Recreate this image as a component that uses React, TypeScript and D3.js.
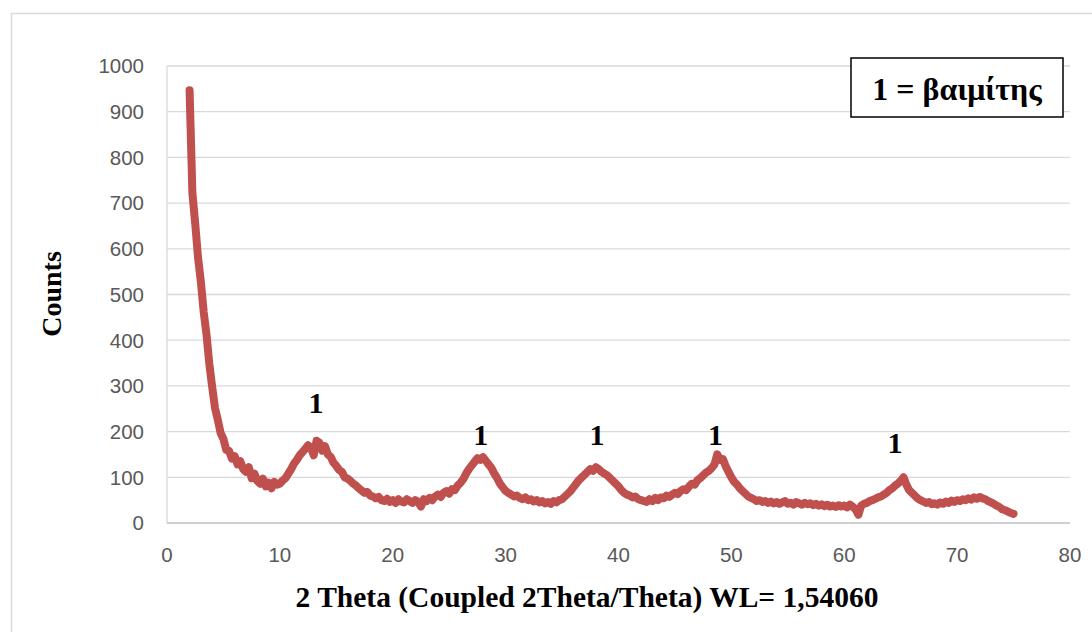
import React, { useEffect, useRef } from "react";
import * as d3 from "d3";

// XRD scan, 2θ from 2° to 75° every 0.25°
const thetaStart = 2;
const thetaStep = 0.25;
const counts: number[] = [
  947, 722, 655, 581, 528, 462, 412, 348, 298, 252, 226, 197, 184, 160, 158, 141, 146, 128, 135, 118,
  112, 122, 98, 108, 92, 86, 97, 80, 88, 76, 90, 84, 86, 93, 98, 108, 118, 130, 138, 148,
  155, 162, 170, 165, 148, 180, 176, 158, 168, 150, 145, 132, 125, 116, 112, 100, 97, 92, 86, 82,
  76, 71, 66, 68, 60, 58, 54, 57, 50, 48, 53, 46, 50, 44, 52, 47, 45, 52, 48, 44,
  50, 46, 36, 52, 48, 55, 50, 58, 62, 57, 66, 70, 64, 74, 72, 82, 88, 96, 108, 118,
  126, 134, 142, 138, 144, 136, 128, 120, 108, 98, 86, 78, 70, 66, 62, 58, 60, 55, 52, 56,
  50, 52, 47, 50, 45, 48, 43, 46, 42, 48, 45, 50, 52, 58, 64, 70, 78, 86, 94, 100,
  106, 112, 118, 114, 122, 118, 112, 108, 104, 98, 92, 86, 80, 72, 66, 62, 60, 56, 58, 52,
  50, 48, 46, 52, 48, 55, 50, 56, 54, 60, 57, 62, 66, 63, 70, 74, 72, 80, 86, 84,
  94, 98, 104, 110, 114, 120, 128, 150, 138, 140, 124, 112, 100, 90, 84, 76, 70, 64, 58, 55,
  52, 48, 50, 46, 48, 44, 47, 43, 46, 42, 45, 48, 42, 44, 40, 46, 43, 40, 44, 41,
  43, 39, 42, 38, 41, 37, 40, 36, 38, 35, 39, 36, 38, 34, 40, 36, 30, 18, 38, 42,
  44, 48, 50, 53, 56, 58, 62, 66, 72, 76, 82, 86, 92, 100, 84, 72, 66, 60, 54, 50,
  47, 44, 46, 41, 43, 40, 45, 42, 47, 44, 49, 46, 50, 48, 52, 50, 54, 51, 56, 53,
  57, 54, 52, 48, 45, 42, 38, 35, 30, 28, 25, 22, 20,
];

const xTicks = [0, 10, 20, 30, 40, 50, 60, 70, 80];
const yTicks = [0, 100, 200, 300, 400, 500, 600, 700, 800, 900, 1000];

// "1" markers above the baimite peaks
const peakX = [13.2, 27.8, 38.1, 48.6, 64.5];
const peakLabelY = [241, 171, 171, 171, 153];

const xTitle = "2 Theta (Coupled 2Theta/Theta) WL= 1,54060";
const yTitle = "Counts";
const legendText = "1 = βαιμίτης";

export default function App() {
  const ref = useRef<SVGSVGElement>(null);

  useEffect(() => {
    const svg = d3.select(ref.current);
    svg.selectAll("*").remove();

    const W = 1092;
    const H = 632;
    const margin = { top: 66, right: 22, bottom: 109, left: 167 };
    const width = W - margin.left - margin.right;
    const height = H - margin.top - margin.bottom;

    const x = d3.scaleLinear().domain([0, 80]).range([0, width]);
    const y = d3.scaleLinear().domain([0, 1000]).range([height, 0]);

    const data = counts.map((c, i) => ({ t: thetaStart + i * thetaStep, c }));

    svg.attr("width", W).attr("height", H).attr("viewBox", `0 0 ${W} ${H}`);

    // chart frame
    svg
      .append("rect")
      .attr("x", 11.5)
      .attr("y", 13.5)
      .attr("width", 1100)
      .attr("height", 700)
      .attr("fill", "#fff")
      .attr("stroke", "#d9d9d9")
      .attr("stroke-width", 1.5);

    const g = svg.append("g").attr("transform", `translate(${margin.left},${margin.top})`);

    // horizontal gridlines
    g.selectAll("line.grid")
      .data(yTicks.filter((d) => d > 0))
      .join("line")
      .attr("class", "grid")
      .attr("x1", 0)
      .attr("x2", width)
      .attr("y1", (d) => y(d))
      .attr("y2", (d) => y(d))
      .attr("stroke", "#d9d9d9")
      .attr("stroke-width", 1.3);

    // axis lines
    g.append("line")
      .attr("x1", 0)
      .attr("x2", 0)
      .attr("y1", 0)
      .attr("y2", height)
      .attr("stroke", "#d9d9d9")
      .attr("stroke-width", 1.3);
    g.append("line")
      .attr("x1", 0)
      .attr("x2", width)
      .attr("y1", height)
      .attr("y2", height)
      .attr("stroke", "#bfbfbf")
      .attr("stroke-width", 1.3);

    const tickFont = "'Liberation Sans', Arial, sans-serif";

    g.selectAll("text.ytick")
      .data(yTicks)
      .join("text")
      .attr("class", "ytick")
      .attr("x", -23)
      .attr("y", (d) => y(d))
      .attr("dy", "0.36em")
      .attr("text-anchor", "end")
      .attr("fill", "#595959")
      .style("font-family", tickFont)
      .style("font-size", "20.5px")
      .text((d) => d);

    g.selectAll("text.xtick")
      .data(xTicks)
      .join("text")
      .attr("class", "xtick")
      .attr("x", (d) => x(d))
      .attr("y", height + 39)
      .attr("text-anchor", "middle")
      .attr("fill", "#595959")
      .style("font-family", tickFont)
      .style("font-size", "20.5px")
      .text((d) => d);

    // the scan
    const line = d3
      .line<{ t: number; c: number }>()
      .x((d) => x(d.t))
      .y((d) => y(d.c));

    g.append("path")
      .datum(data)
      .attr("d", line)
      .attr("fill", "none")
      .attr("stroke", "#c0504d")
      .attr("stroke-width", 8)
      .attr("stroke-linejoin", "round")
      .attr("stroke-linecap", "round");

    const serif = "'Liberation Serif', 'Times New Roman', serif";

    // peak markers
    g.selectAll("text.peak")
      .data(peakX.map((px, i) => ({ px, py: peakLabelY[i] })))
      .join("text")
      .attr("class", "peak")
      .attr("x", (d) => x(d.px))
      .attr("y", (d) => y(d.py))
      .attr("text-anchor", "middle")
      .style("font-family", serif)
      .style("font-weight", "bold")
      .style("font-size", "30px")
      .text("1");

    // legend box
    svg
      .append("rect")
      .attr("x", 851)
      .attr("y", 58)
      .attr("width", 212)
      .attr("height", 59)
      .attr("fill", "#fff")
      .attr("stroke", "#000")
      .attr("stroke-width", 1.5);
    svg
      .append("text")
      .attr("x", 957)
      .attr("y", 100)
      .attr("text-anchor", "middle")
      .style("font-family", serif)
      .style("font-weight", "bold")
      .style("font-size", "32px")
      .text(legendText);

    // axis titles
    svg
      .append("text")
      .attr("x", 587)
      .attr("y", 607)
      .attr("text-anchor", "middle")
      .style("font-family", serif)
      .style("font-weight", "bold")
      .style("font-size", "29.5px")
      .text(xTitle);

    svg
      .append("text")
      .attr("transform", "translate(61,294) rotate(-90)")
      .attr("text-anchor", "middle")
      .style("font-family", serif)
      .style("font-weight", "bold")
      .style("font-size", "28px")
      .text(yTitle);
  }, []);

  return (
    <svg
      ref={ref}
      style={{ position: "absolute", left: 0, top: 0, display: "block", background: "#fff" }}
    ></svg>
  );
}
